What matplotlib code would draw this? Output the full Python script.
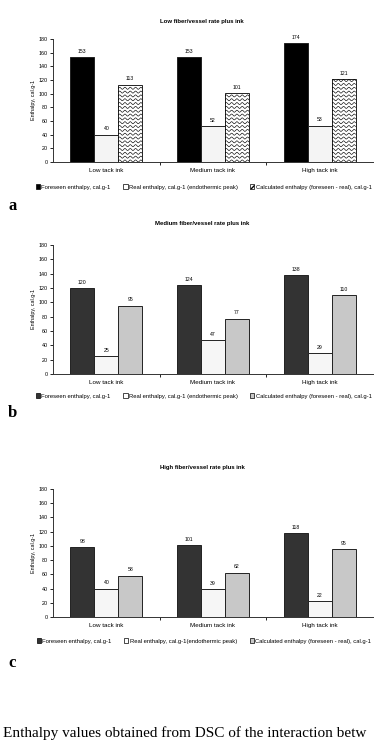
import numpy as np
import matplotlib
matplotlib.use('Agg')
import matplotlib.pyplot as plt
from matplotlib.patches import Patch

plt.rcParams['font.family'] = ['Liberation Sans', 'DejaVu Sans']

categories = ['Low tack ink', 'Medium tack ink', 'High tack ink']

titles = ['Low fiber/vessel rate plus ink',
          'Medium fiber/vessel rate plus ink',
          'High fiber/vessel rate plus ink']

# a: low fiber/vessel rate
foreseen_a = [153, 153, 174]
real_a = [40, 52, 53]
calculated_a = [113, 101, 121]

# b: medium fiber/vessel rate
foreseen_b = [120, 124, 138]
real_b = [25, 47, 29]
calculated_b = [95, 77, 110]

# c: high fiber/vessel rate
foreseen_c = [98, 101, 118]
real_c = [40, 39, 22]
calculated_c = [58, 62, 95]

legend_real = ['Real enthalpy, cal.g-1 (endothermic peak)',
               'Real enthalpy, cal.g-1 (endothermic peak)',
               'Real enthalpy, cal.g-1(endothermic peak)']
legend_foreseen = 'Foreseen enthalpy, cal.g-1'
legend_calc = 'Calculated enthalpy (foreseen - real), cal.g-1'

y_ticks = list(range(0, 181, 20))
panel_letters = ['a', 'b', 'c']
caption = 'Enthalpy values obtained from DSC of the interaction betw'

FS = 3.9


def wavy_fill(ax, bars):
    # matplotlib has no wavy hatch, so draw sine rows clipped to each bar
    amp = 1.5
    for bar in bars:
        x0 = bar.get_x()
        w = bar.get_width()
        h = bar.get_height()
        xs = np.linspace(x0, x0 + w, 200)
        period = w / 4.5
        for base in np.arange(1.5, h - amp, 5.6):
            ys = base + amp * np.sin(2 * np.pi * (xs - x0) / period)
            line, = ax.plot(xs, ys, color='black', lw=0.45, zorder=3)
            line.set_clip_path(bar)


def draw_panel(fig, rect, title, title_y, foreseen, real, calculated, patterned,
               real_label, legend_y, letter, letter_y):
    ax = fig.add_axes(rect)
    x = np.arange(len(categories))
    w = 0.224

    if patterned:
        c_fore, c_real, c_calc = 'black', '#f4f4f4', 'white'
    else:
        c_fore, c_real, c_calc = '#333333', '#f6f6f6', '#c8c8c8'

    b1 = ax.bar(x - w, foreseen, w, color=c_fore, edgecolor='#222222', lw=0.7, zorder=2)
    b2 = ax.bar(x, real, w, color=c_real, edgecolor='#222222', lw=0.7, zorder=2)
    b3 = ax.bar(x + w, calculated, w, color=c_calc, edgecolor='#222222', lw=0.7, zorder=2)
    if patterned:
        wavy_fill(ax, b3)

    for bars in (b1, b2, b3):
        ax.bar_label(bars, padding=2.5, fontsize=FS - 0.2)

    ax.set_xlim(-0.5, 2.5)
    ax.set_ylim(0, 180)
    ax.set_yticks(y_ticks)
    ax.tick_params(axis='y', labelsize=FS, length=2, width=0.6, pad=1.5)
    ax.set_xticks([0.5, 1.5])
    ax.set_xticklabels([])
    ax.tick_params(axis='x', which='major', length=2, width=0.6)
    ax.set_xticks(x, minor=True)
    ax.set_xticklabels(categories, minor=True, fontsize=FS + 0.6)
    ax.tick_params(axis='x', which='minor', length=0, pad=4)
    ax.set_ylabel('Enthalpy, cal.g-1', fontsize=FS, labelpad=2)
    for side in ('top', 'right'):
        ax.spines[side].set_visible(False)
    for side in ('left', 'bottom'):
        ax.spines[side].set_linewidth(0.7)
        ax.spines[side].set_color('#333333')

    fig.text(0.54, title_y, title, ha='center', va='center', fontsize=FS + 0.4,
             fontweight='bold')

    calc_handle = Patch(facecolor=c_calc, edgecolor='black', lw=0.5,
                        hatch='/////' if patterned else None)
    handles = [Patch(facecolor=c_fore, edgecolor='black', lw=0.5),
               Patch(facecolor='white', edgecolor='black', lw=0.5),
               calc_handle]
    fig.legend(handles, [legend_foreseen, real_label, legend_calc],
               loc='center', bbox_to_anchor=(0.545, legend_y), ncol=3,
               frameon=False, fontsize=FS + 0.3, handlelength=0.7, handleheight=0.7,
               handletextpad=0.2, columnspacing=2.2, borderaxespad=0)

    fig.text(0.022, letter_y, letter, ha='left', va='center', fontsize=12,
             fontweight='bold', family='Liberation Serif')
    return ax


def main():
    fig = plt.figure(figsize=(3.74, 7.40), dpi=100)
    H = 740.0

    draw_panel(fig, [53 / 374, 1 - 162 / H, 320 / 374, 123 / H], titles[0], 1 - 22 / H,
               foreseen_a, real_a, calculated_a, True, legend_real[0], 1 - 187 / H,
               panel_letters[0], 1 - 206 / H)
    draw_panel(fig, [53 / 374, 1 - 374 / H, 320 / 374, 129 / H], titles[1], 1 - 224 / H,
               foreseen_b, real_b, calculated_b, False, legend_real[1], 1 - 396 / H,
               panel_letters[1], 1 - 413 / H)
    draw_panel(fig, [53 / 374, 1 - 617 / H, 320 / 374, 128 / H], titles[2], 1 - 468 / H,
               foreseen_c, real_c, calculated_c, False, legend_real[2], 1 - 641 / H,
               panel_letters[2], 1 - 663 / H)

    fig.text(0.008, 1 - 733 / H, caption, ha='left', va='center', fontsize=11,
             family='Liberation Serif')

    fig.savefig('out.png', dpi=100)


if __name__ == '__main__':
    main()
